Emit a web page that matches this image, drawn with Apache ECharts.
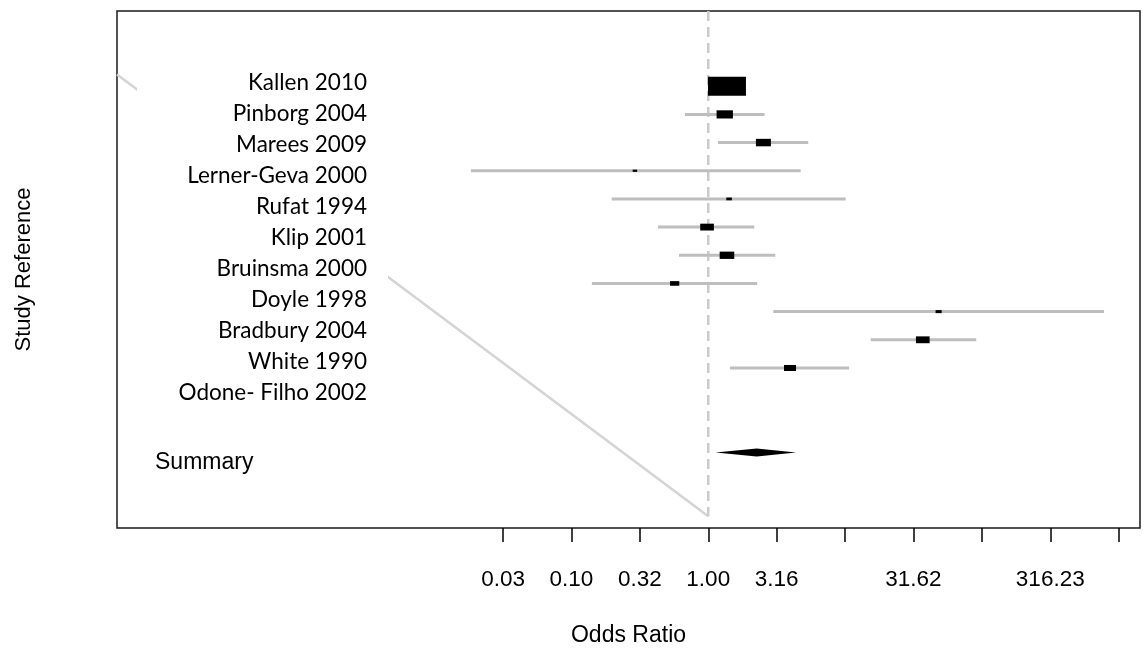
<!DOCTYPE html>
<html lang="en">
  <head>
    <meta charset="UTF-8" />
    <title>Forest plot - Odds Ratio</title>
    <script src="https://cdn.jsdelivr.net/npm/echarts@6/dist/echarts.min.js"></script>
    <style>
      html, body { margin: 0; padding: 0; background: #fff; }
    </style>
  </head>
  <body>
    <div id="main" style="width: 1143px; height: 652px"></div>
    <script type="text/javascript">
      // study data (odds ratios, 95% CI, weights in %)
      const studies = [
        "Kallen 2010", "Pinborg 2004", "Marees 2009", "Lerner-Geva 2000",
        "Rufat 1994", "Klip 2001", "Bruinsma 2000", "Doyle 1998",
        "Bradbury 2004", "White 1990", "Odone- Filho 2002"
      ];
      const oddsRatio = [1.37, 1.32, 2.53, 0.291, 1.42, 0.98, 1.37, 0.568, 48.3, 37.0, 3.96];
      const ciLower = [1.31, 0.675, 1.18, 0.0184, 0.197, 0.429, 0.611, 0.141, 2.99, 15.4, 1.44];
      const ciUpper = [1.44, 2.58, 5.38, 4.74, 10.1, 2.17, 3.09, 2.28, 781, 91.0, 10.7];
      const weights = [50.8, 9.4, 7.9, 0.7, 1.1, 6.6, 7.5, 3.0, 1.3, 6.6, 5.1];

      const summaryLabel = "Summary";
      const summaryOR = [2.26];
      const summaryLower = [1.13];
      const summaryUpper = [4.38];

      // x axis in log10 units
      const tickExponents = [-1.5, -1, -0.5, 0, 0.5, 1, 1.5, 2, 2.5, 3];
      const labelExponents = [-1.5, -1, -0.5, 0, 0.5, 1.5, 2.5];
      const tickLabels = ["0.03", "0.10", "0.32", "1.00", "3.16", "31.62", "316.23"];

      const log10 = (v) => Math.log10(v);
      const summaryRow = studies.length + 3;

      const ciData = studies.map((s, i) => [log10(ciLower[i]), log10(ciUpper[i]), i + 1]);
      const boxData = studies.map((s, i) => [log10(oddsRatio[i]), i + 1, weights[i]]);
      const diamondData = [[log10(summaryLower[0]), log10(summaryOR[0]), log10(summaryUpper[0]), summaryRow]];

      var myChart = echarts.init(document.getElementById("main"));

      var option = {
        animation: false,
        grid: [
          { left: 117, right: 3, top: 11, bottom: 118, show: true, borderColor: "#1a1a1a", borderWidth: 1.5, backgroundColor: "transparent" },
          { left: 372, width: 10, top: 67, height: 341 }
        ],
        xAxis: [
          {
            type: "value",
            min: -4.322,
            max: 3.156,
            axisLine: { show: false, onZero: false },
            splitLine: { show: false },
            axisTick: {
              show: true,
              customValues: tickExponents,
              length: 14,
              lineStyle: { color: "#000", width: 1.5 }
            },
            axisLabel: {
              customValues: labelExponents,
              margin: 40,
              fontFamily: "Liberation Sans",
              fontSize: 22.5,
              color: "#000",
              formatter: (v) => {
                const idx = labelExponents.findIndex((e) => Math.abs(e - v) < 1e-6);
                return idx >= 0 ? tickLabels[idx] : "";
              }
            },
            name: "Odds Ratio",
            nameLocation: "middle",
            nameGap: 96,
            nameTextStyle: { fontFamily: "Liberation Sans", fontSize: 23, color: "#000" }
          },
          { gridIndex: 1, type: "value", show: false }
        ],
        yAxis: [
          {
            type: "value",
            inverse: true,
            min: -1.67,
            max: 16.68,
            axisLine: { show: false, onZero: false },
            axisTick: { show: false },
            axisLabel: { show: false },
            splitLine: { show: false },
            name: "Study Reference",
            nameLocation: "middle",
            nameGap: 82,
            nameTextStyle: { fontFamily: "Liberation Sans", fontSize: 22, color: "#000" }
          },
          {
            gridIndex: 1,
            type: "category",
            inverse: true,
            data: studies,
            z: 20,
            axisLine: { show: false },
            axisTick: { show: false },
            splitLine: { show: false },
            axisLabel: { margin: 5, fontFamily: "Lato", fontSize: 22.5, color: "#000" }
          }
        ],
        graphic: [
          {
            type: "rect",
            z: 10,
            silent: true,
            shape: { x: 137, y: 60, width: 251, height: 350 },
            style: { fill: "#fff" }
          },
          {
            type: "text",
            z: 20,
            left: 155,
            top: 451,
            style: { text: summaryLabel, font: "23px 'Liberation Sans'", fill: "#000" }
          }
        ],
        series: [
          {
            type: "line",
            z: 1,
            silent: true,
            symbol: "none",
            data: [[-4.322, 0.58], [0, 16.26]],
            lineStyle: { color: "#d4d4d4", width: 2.5 }
          },
          {
            type: "line",
            z: 1,
            silent: true,
            symbol: "none",
            data: [[0, -1.67], [0, 16.26]],
            lineStyle: { color: "#cbcbcb", width: 2.5, type: [10, 6] }
          },
          {
            type: "custom",
            z: 2,
            silent: true,
            encode: { x: [0, 1], y: 2 },
            data: ciData,
            renderItem: (params, api) => {
              const p1 = api.coord([api.value(0), api.value(2)]);
              const p2 = api.coord([api.value(1), api.value(2)]);
              return {
                type: "line",
                shape: { x1: p1[0], y1: p1[1], x2: p2[0], y2: p2[1] },
                style: { stroke: "#bebebe", lineWidth: 3 }
              };
            }
          },
          {
            type: "custom",
            z: 3,
            silent: true,
            encode: { x: 0, y: 1 },
            data: boxData,
            renderItem: (params, api) => {
              const c = api.coord([api.value(0), api.value(1)]);
              const w = 5.33 * Math.sqrt(api.value(2));
              const h = w / 2;
              return {
                type: "rect",
                shape: { x: c[0] - w / 2, y: c[1] - h / 2, width: w, height: h },
                style: { fill: "#000" }
              };
            }
          },
          {
            type: "custom",
            z: 3,
            silent: true,
            encode: { x: [0, 1, 2], y: 3 },
            data: diamondData,
            renderItem: (params, api) => {
              const lo = api.coord([api.value(0), api.value(3)]);
              const mid = api.coord([api.value(1), api.value(3)]);
              const hi = api.coord([api.value(2), api.value(3)]);
              const h = 4;
              return {
                type: "polygon",
                shape: { points: [[lo[0], lo[1]], [mid[0], mid[1] - h], [hi[0], hi[1]], [mid[0], mid[1] + h]] },
                style: { fill: "#000" }
              };
            }
          }
        ]
      };

      myChart.setOption(option);
    </script>
  </body>
</html>
